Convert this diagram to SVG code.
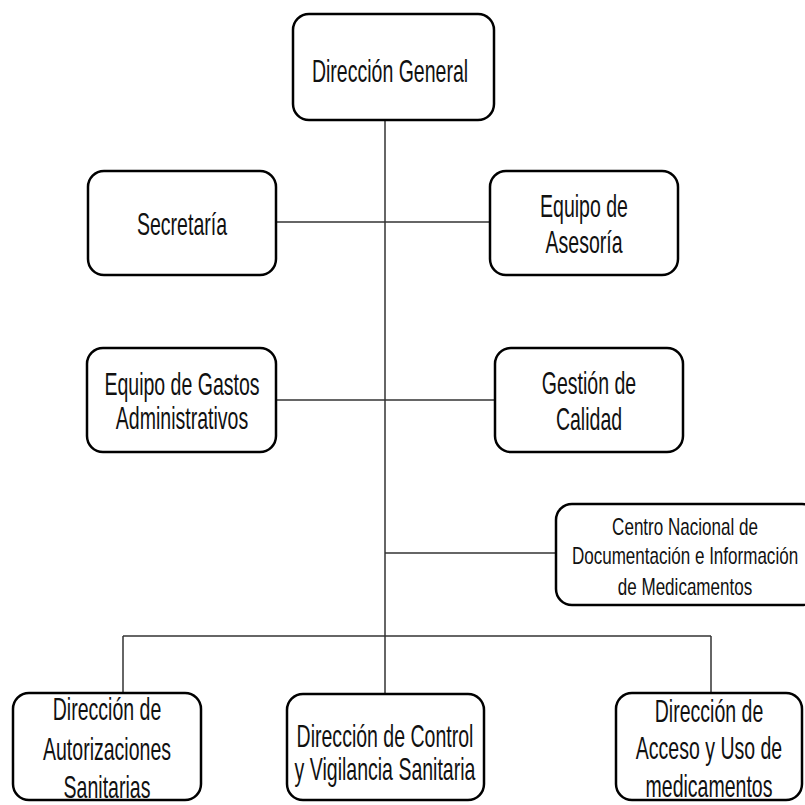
<svg xmlns="http://www.w3.org/2000/svg" width="805" height="805" viewBox="0 0 805 805">
  <style>
    .box { fill: #ffffff; stroke: #000000; stroke-width: 2.5; }
    .link { fill: none; stroke: #333333; stroke-width: 1.5; }
    .t { font-family: "Liberation Sans", Arial, sans-serif; font-size: 32px; fill: #111111; text-anchor: middle; }
    .s { font-family: "Liberation Sans", Arial, sans-serif; font-size: 24px; fill: #111111; text-anchor: middle; }
  </style>
  <rect width="805" height="805" fill="#ffffff"/>

  <!-- connectors -->
  <g id="connectors">
    <line class="link" x1="385" y1="120" x2="385" y2="694"/>
    <line class="link" x1="276" y1="222" x2="490" y2="222"/>
    <line class="link" x1="276" y1="400" x2="495" y2="400"/>
    <line class="link" x1="385" y1="553" x2="556" y2="553"/>
    <line class="link" x1="123" y1="636" x2="711" y2="636"/>
    <line class="link" x1="123" y1="636" x2="123" y2="693"/>
    <line class="link" x1="711" y1="636" x2="711" y2="693"/>
  </g>

  <g id="direccion-general">
    <rect class="box" x="293" y="14" width="201" height="106" rx="16"/>
    <text class="t" transform="translate(390 0) scale(0.61 1)"><tspan x="0" y="82">Dirección General</tspan></text>
  </g>

  <g id="secretaria">
    <rect class="box" x="88" y="171" width="188" height="104" rx="16"/>
    <text class="t" transform="translate(182 0) scale(0.61 1)"><tspan x="0" y="235">Secretaría</tspan></text>
  </g>

  <g id="equipo-asesoria">
    <rect class="box" x="490" y="171" width="188" height="104" rx="16"/>
    <text class="t" transform="translate(584 0) scale(0.61 1)"><tspan x="0" y="217">Equipo de</tspan><tspan x="0" y="253">Asesoría</tspan></text>
  </g>

  <g id="equipo-gastos">
    <rect class="box" x="87" y="348" width="189" height="104" rx="16"/>
    <text class="t" transform="translate(182 0) scale(0.61 1)"><tspan x="0" y="395">Equipo de Gastos</tspan><tspan x="0" y="429">Administrativos</tspan></text>
  </g>

  <g id="gestion-calidad">
    <rect class="box" x="495" y="348" width="188" height="104" rx="16"/>
    <text class="t" transform="translate(589 0) scale(0.61 1)"><tspan x="0" y="394">Gestión de</tspan><tspan x="0" y="430">Calidad</tspan></text>
  </g>

  <g id="centro-nacional">
    <rect class="box" x="556" y="504" width="262" height="101" rx="16"/>
    <text class="s" transform="translate(685 0) scale(0.71 1)"><tspan x="0" y="535">Centro Nacional de</tspan><tspan x="0" y="564">Documentación e Información</tspan><tspan x="0" y="595">de Medicamentos</tspan></text>
  </g>

  <g id="direccion-autorizaciones">
    <rect class="box" x="13" y="693" width="188" height="107" rx="16"/>
    <text class="t" transform="translate(107 0) scale(0.61 1)"><tspan x="0" y="720">Dirección de</tspan><tspan x="0" y="760">Autorizaciones</tspan><tspan x="0" y="798">Sanitarias</tspan></text>
  </g>

  <g id="direccion-control">
    <rect class="box" x="287" y="694" width="197" height="106" rx="16"/>
    <text class="t" transform="translate(385 0) scale(0.61 1)"><tspan x="0" y="747">Dirección de Control</tspan><tspan x="0" y="780">y Vigilancia Sanitaria</tspan></text>
  </g>

  <g id="direccion-acceso">
    <rect class="box" x="616" y="693" width="186" height="107" rx="16"/>
    <text class="t" transform="translate(709 0) scale(0.61 1)"><tspan x="0" y="722">Dirección de</tspan><tspan x="0" y="759">Acceso y Uso de</tspan><tspan x="0" y="797">medicamentos</tspan></text>
  </g>
</svg>
